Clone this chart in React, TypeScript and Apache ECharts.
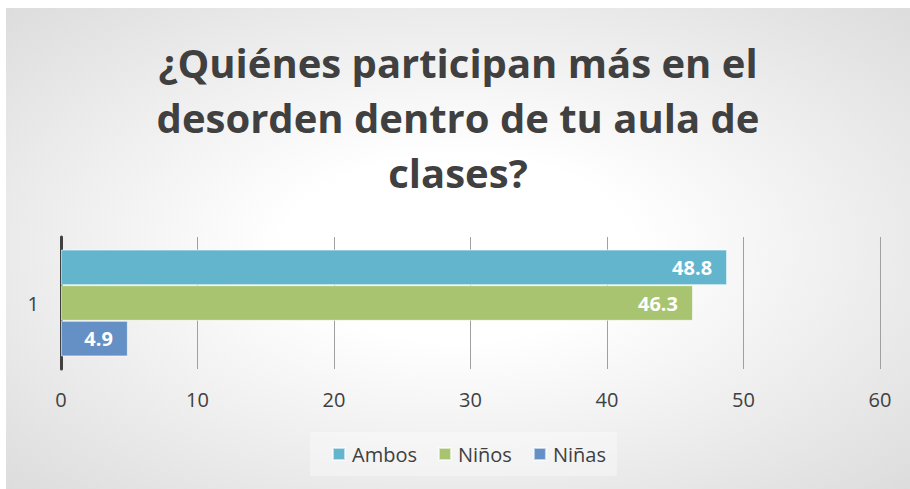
import React, { useEffect, useRef } from "react";
import * as echarts from "echarts";

const categories = ["1"];
const seriesNames = ["Ambos", "Niños", "Niñas"];
const ambos = [48.8];
const ninos = [46.3];
const ninas = [4.9];
const colors = ["#62B5CC", "#A8C470", "#6590C6"];
const titleText = "¿Quiénes participan más en el\ndesorden dentro de tu aula de\nclases?";

const FONT = "'Open Sans', 'Noto Sans', sans-serif";

export default function App() {
  const ref = useRef<HTMLDivElement>(null);
  useEffect(() => {
    if (!ref.current) return;
    const chart = echarts.init(ref.current, null, { renderer: "svg" });
    const values = [ambos, ninos, ninas];
    chart.setOption({
      animation: false,
      backgroundColor: {
        type: "radial",
        x: 0.5,
        y: 0.5,
        r: 1.07,
        colorStops: [
          { offset: 0, color: "#ffffff" },
          { offset: 0.18, color: "#ffffff" },
          { offset: 1, color: "#c4c4c4" },
        ],
      },
      title: {
        text: titleText,
        left: "center",
        top: 27,
        padding: 0,
        textStyle: {
          fontFamily: FONT,
          fontSize: 40,
          fontWeight: "bold",
          color: "#404040",
          lineHeight: 55,
        },
      },
      legend: {
        data: seriesNames,
        left: 304,
        top: 424,
        itemWidth: 12,
        itemHeight: 12,
        itemGap: 21,
        padding: [12, 11, 12, 22],
        backgroundColor: "rgba(255,255,255,0.35)",
        textStyle: { fontFamily: FONT, fontSize: 20, color: "#404040", padding: [0, 0, 0, 2] },
        icon: "rect",
      },
      grid: { left: 55, right: 30, top: 229, bottom: 120, containLabel: false },
      xAxis: {
        type: "value",
        min: 0,
        max: 60,
        interval: 10,
        axisLine: { show: false },
        axisTick: { show: false },
        axisLabel: { fontFamily: FONT, fontSize: 20, color: "#404040", margin: 20 },
        splitLine: { show: true, lineStyle: { color: "#a0a0a0", width: 1 } },
      },
      yAxis: {
        type: "category",
        data: categories,
        inverse: true,
        axisLine: { show: true, lineStyle: { color: "#404040", width: 3 } },
        axisTick: { show: false },
        axisLabel: { fontFamily: FONT, fontSize: 20, color: "#404040", margin: 22 },
      },
      series: seriesNames.map((name, i) => ({
        name,
        type: "bar",
        data: values[i],
        barGap: "0%",
        barCategoryGap: "19%",
        itemStyle: { color: colors[i], borderColor: "rgba(255,255,255,0.6)", borderWidth: 1 },
        label: {
          show: true,
          position: "insideRight",
          distance: 15,
          color: "#ffffff",
          fontFamily: FONT,
          fontWeight: "bold",
          fontSize: 20,
        },
      })),
    });
    return () => chart.dispose();
  }, []);
  return (
    <div
      ref={ref}
      style={{ position: "absolute", left: 6, top: 8, width: 904, height: 481 }}
    />
  );
}
